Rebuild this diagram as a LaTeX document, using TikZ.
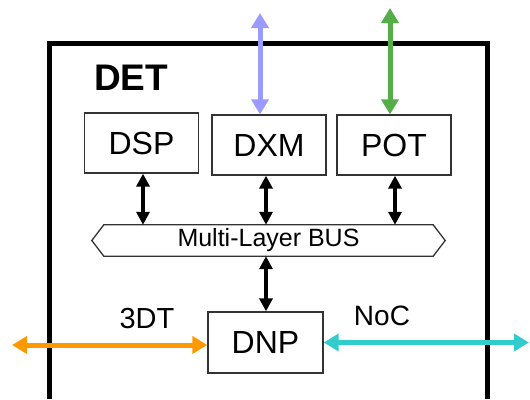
\documentclass[tikz,border=0pt]{standalone}
\usepackage{fontspec}
\setmainfont{Liberation Sans}
\usetikzlibrary{arrows.meta}
\definecolor{linkpurple}{HTML}{9B9BFF}
\definecolor{linkgreen}{HTML}{55AD48}
\definecolor{linkorange}{HTML}{FF9900}
\definecolor{linkcyan}{HTML}{33CCCC}
\definecolor{boxline}{HTML}{333333}
\begin{document}
\begin{tikzpicture}[x=1pt,y=-1pt,
  unit/.style={draw=boxline,line width=1.3pt,minimum width=114pt,minimum height=60pt,
    inner sep=0pt,font=\fontsize{32}{36}\selectfont},
  buslink/.style={line width=3.6pt,{Triangle[width=13pt,length=13pt]}-{Triangle[width=13pt,length=13pt]}},
  extlink/.style={line width=5pt,{Triangle[width=17pt,length=15pt]}-{Triangle[width=17pt,length=15pt]}},
  portlabel/.style={font=\fontsize{29}{34}\selectfont,inner sep=0pt}]
\useasboundingbox (0,0) rectangle (530,399);

% DET enclosure (open at the bottom)
\draw[line width=5pt] (49.5,399) -- (49.5,43) -- (487.5,43) -- (487.5,399);
\node[font=\bfseries\fontsize{37}{40}\selectfont,inner sep=0pt] (det) at (131,78) {DET};

% functional units
\node[unit] (DSP) at (141.5,143) {DSP};
\node[unit] (DXM) at (269,145) {DXM};
\node[unit] (POT) at (394,145) {POT};
\node[unit,minimum width=115pt,minimum height=61pt] (DNP) at (265.5,342.5) {DNP};

% multi-layer bus
\node[minimum width=353pt,minimum height=31pt,inner sep=0pt,
  font=\fontsize{25}{28}\selectfont] (bus) at (268.5,240.5) {Multi-Layer BUS};
\draw[boxline,line width=1.3pt] (bus.west) -- ([xshift=12pt]bus.north west)
  -- ([xshift=-12pt]bus.north east) -- (bus.east)
  -- ([xshift=-12pt]bus.south east) -- ([xshift=12pt]bus.south west) -- cycle;

% bus connections
\draw[buslink] ([xshift=1.5pt]DSP.south) -- ([xshift=1.5pt]DSP.south |- bus.north);
\draw[buslink] ([xshift=-3pt]DXM.south) -- ([xshift=-3pt]DXM.south |- bus.north);
\draw[buslink] ([xshift=1pt]POT.south) -- ([xshift=1pt]POT.south |- bus.north);
\draw[buslink] ([xshift=0.5pt]DNP.north |- bus.south) -- ([xshift=0.5pt]DNP.north);

% external links
\coordinate (dxmext) at (260,13);
\coordinate (potext) at (390,8);
\coordinate (westend) at (12,345);
\coordinate (eastend) at (529,342.5);
\draw[extlink,linkpurple] (dxmext) -- (dxmext |- DXM.north);
\draw[extlink,linkgreen] (potext) -- (potext |- POT.north);
\draw[extlink,linkorange] (westend) -- (westend -| DNP.west);
\draw[extlink,linkcyan] (DNP.east |- eastend) -- (eastend);

\node[portlabel] (tdt) at (147,319) {3DT};
\node[portlabel,font=\fontsize{28}{32}\selectfont] (noc) at (382,316) {NoC};
\end{tikzpicture}
\end{document}
